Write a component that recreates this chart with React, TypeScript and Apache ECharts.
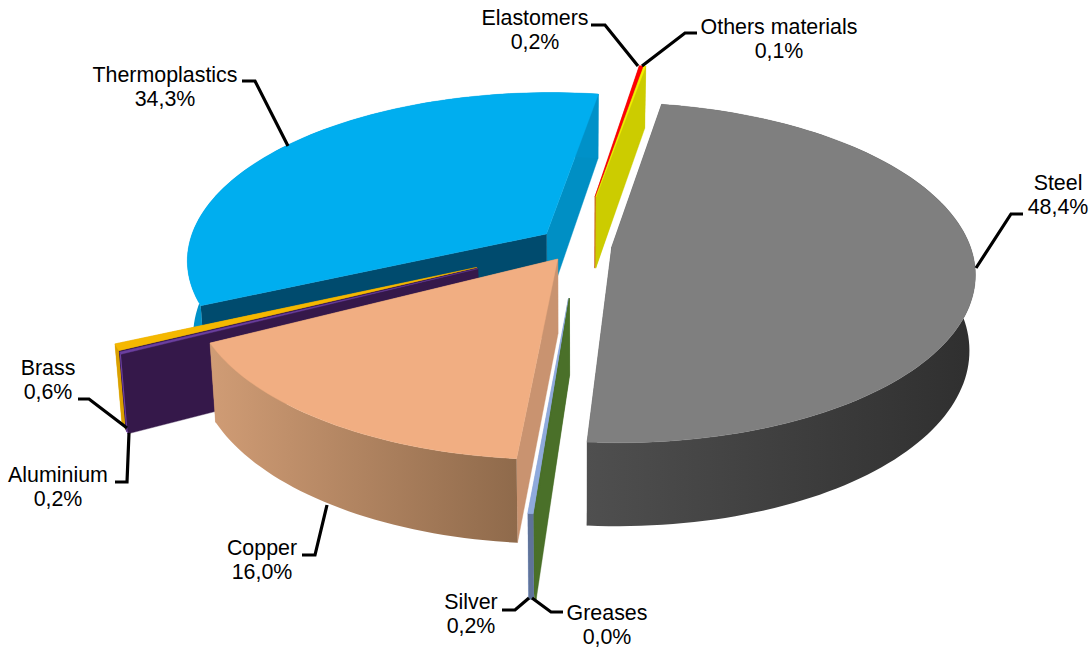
import React, { useEffect, useRef } from "react";
import * as echarts from "echarts";

// Data, clockwise from the first slice
const names = ["Steel", "Greases", "Silver", "Copper", "Aluminium", "Brass", "Thermoplastics", "Elastomers", "Others materials"];
const values = [48.4, 0.04, 0.2, 16.0, 0.2, 0.6, 34.3, 0.2, 0.1];
const explode = [34, 110, 110, 36, 110, 110, 40, 110, 110];

// Styles per slice
const topColors = ["#7F7F7F", "#4A7029", "#8FAADC", "#F1AE82", "#6B3FA0", "#F5B800", "#00AEEF", "#FF0000", "#F4F000"];
const startWall = ["#555555", "#4A7029", "#4A7029", "#C99370", "#35184A", "#35184A", "#004B6E", "#D03030", "#CCCC00"];
const endWall = ["#555555", "#4A7029", "#8FAADC", "#C99370", "#35184A", "#E0A800", "#008FC4", "#CCCC00", "#CCCC00"];
const outerFrom = ["#4F4F4F", "#4A7029", "#5F7399", "#D09C75", "#6B3FA0", "#D9A000", "#0091C8", "#FF0000", "#CCCC00"];
const outerTo = ["#2F2F2F", "#4A7029", "#5F7399", "#8F6A4B", "#6B3FA0", "#D9A000", "#0091C8", "#FF0000", "#CCCC00"];

// Back-to-front painting order
const drawOrder = ["Thermoplastics", "Elastomers", "Others materials", "Brass", "Aluminium", "Copper", "Steel", "Silver", "Greases"];

// Label placement
const labelSpots: Record<string, { x: number; y: number; leader: number[][] }> = {
  Elastomers: { x: 535, y: 30, leader: [[591, 25], [605, 25], [638, 66]] },
  "Others materials": { x: 779, y: 39, leader: [[697, 33], [685, 33], [642, 66]] },
  Steel: { x: 1058, y: 195, leader: [[1023, 214], [1011, 214], [976, 268]] },
  Thermoplastics: { x: 165, y: 87, leader: [[242, 81], [255, 81], [288, 146]] },
  Brass: { x: 48, y: 380, leader: [[78, 399], [89, 399], [127, 428]] },
  Aluminium: { x: 58, y: 487, leader: [[115, 482], [127, 482], [129, 433]] },
  Copper: { x: 262, y: 560, leader: [[302, 555], [315, 555], [327, 505]] },
  Silver: { x: 471, y: 614, leader: [[502, 610], [515, 610], [529, 598]] },
  Greases: { x: 607, y: 625, leader: [[563, 612], [551, 612], [532, 598]] },
};

const CX = 578, CY = 245, R = 358, K = 0.463, PERSP = 0.00042, TAPER = 0.985;
const START_DEG = 10.0;
const rad = (d: number) => (d * Math.PI) / 180;

const total = values.reduce((a, b) => a + b, 0);
const slices = (() => {
  let a = START_DEG;
  return names.map((name, i) => {
    const from = a;
    a += (values[i] / total) * 360;
    return { name, i, from, to: a, mid: (from + a) / 2 };
  });
})();

function project(theta: number, r: number, e: number, mid: number) {
  const u = e * Math.sin(rad(mid)) + r * Math.sin(rad(theta));
  const v = e * Math.cos(rad(mid)) + r * Math.cos(rad(theta));
  const s = 1 / (1 + PERSP * v);
  const y = CY - K * v * s;
  return {
    top: [CX + u * s, y],
    bottom: [CX + u * s * TAPER, y + 74 - 0.026 * v],
  };
}

function renderItem(params: any) {
  const slice = slices.find((s) => s.name === drawOrder[params.dataIndex])!;
  const { i, from, to, mid } = slice;
  const e = explode[i];
  const apex = project(0, 0, e, mid);
  const n = Math.max(1, Math.ceil((to - from) / 1.5));
  const arc = [];
  for (let j = 0; j <= n; j++) arc.push(project(from + ((to - from) * j) / n, R, e, mid));
  const first = arc[0];
  const last = arc[n];
  const xs = arc.map((p) => p.top[0]);
  const grad = new echarts.graphic.LinearGradient(
    Math.min(...xs), 0, Math.max(...xs) + 0.01, 0,
    [{ offset: 0, color: outerFrom[i] }, { offset: 1, color: outerTo[i] }],
    true
  );
  const poly = (points: number[][], fill: any) => ({
    type: "polygon",
    shape: { points },
    style: { fill, stroke: typeof fill === "string" ? fill : undefined, lineWidth: typeof fill === "string" ? 0.4 : 0 },
  });
  return {
    type: "group",
    children: [
      poly([apex.top, last.top, last.bottom, apex.bottom], endWall[i]),
      poly([apex.top, first.top, first.bottom, apex.bottom], startWall[i]),
      poly([...arc.map((p) => p.top), ...arc.map((p) => p.bottom).reverse()], grad),
      poly([apex.top, ...arc.map((p) => p.top)], topColors[i]),
    ],
  };
}

const percent = (v: number) => v.toFixed(1).replace(".", ",") + "%";

export default function App() {
  const ref = useRef<HTMLDivElement>(null);
  useEffect(() => {
    const chart = echarts.init(ref.current!, undefined, { renderer: "svg" });
    const graphics: any[] = [];
    names.forEach((name, i) => {
      const spot = labelSpots[name];
      graphics.push({
        type: "polyline",
        shape: { points: spot.leader },
        style: { stroke: "#000", lineWidth: 3.2, fill: "none" },
        z: 10,
      });
      graphics.push({
        type: "text",
        x: spot.x,
        y: spot.y,
        style: {
          text: `${name}\n${percent(values[i])}`,
          font: '21.4px "Liberation Sans", Arial, sans-serif',
          lineHeight: 24.5,
          fill: "#000",
          align: "center",
          verticalAlign: "middle",
        },
        z: 10,
      });
    });
    chart.setOption({
      animation: false,
      backgroundColor: "#ffffff",
      series: [
        {
          type: "custom",
          coordinateSystem: "none",
          silent: true,
          renderItem,
          data: drawOrder.map((name) => ({ name, value: values[names.indexOf(name)] })),
        },
      ],
      graphic: graphics,
    });
    return () => chart.dispose();
  }, []);
  return <div ref={ref} style={{ position: "absolute", left: 0, top: 0, width: 1092, height: 648 }} />;
}
